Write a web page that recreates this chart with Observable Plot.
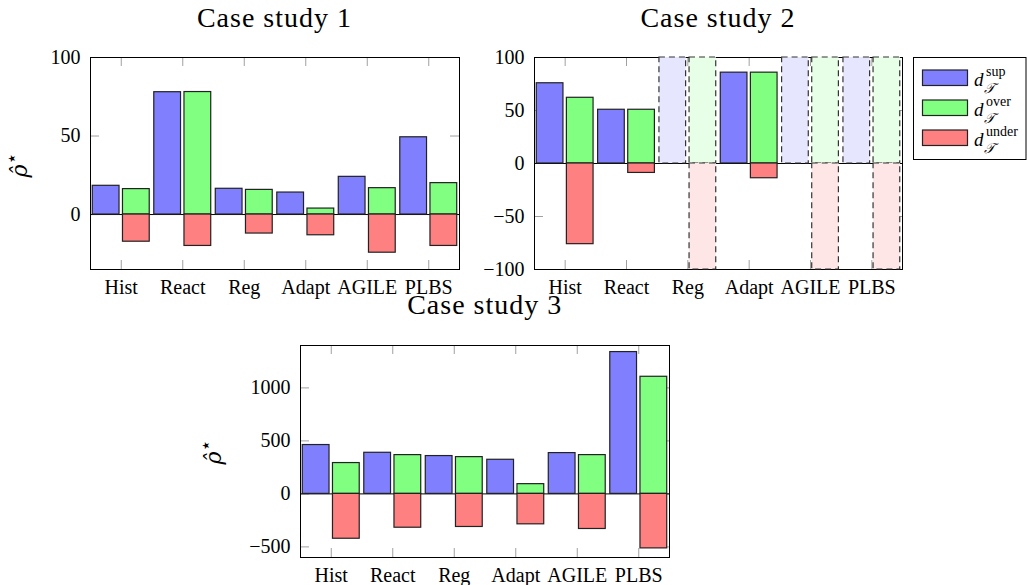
<!DOCTYPE html>
<html><head><meta charset="utf-8">
<script src="https://cdn.jsdelivr.net/npm/d3@7"></script>
<script src="https://cdn.jsdelivr.net/npm/@observablehq/plot@0.6"></script>
<style>
body{margin:0;background:#fff;}
#root{position:relative;width:1027px;height:585px;overflow:hidden;font-family:"Liberation Serif",serif;}
#root svg{position:absolute;overflow:visible;}
</style></head><body><div id="root"></div>
<script>
// ---- data ----
const categories = ["Hist", "React", "Reg", "Adapt", "AGILE", "PLBS"];
const series = ["sup", "over", "under"];
const seriesColors = ["#8080ff", "#80ff80", "#ff8080"];
const shadeColors = ["#e6e6ff", "#e6ffe6", "#ffe6e6"];
const titles = ["Case study 1", "Case study 2", "Case study 3"];

const case1Sup   = [18.3, 77.9, 16.4, 14.0, 24.0, 49.2];
const case1Over  = [16.2, 78.0, 15.7, 3.8, 16.8, 20.0];
const case1Under = [-17.3, -20.0, -12.1, -13.2, -24.3, -20.0];

const case2Sup   = [75.7, 50.7, null, 85.7, null, null];
const case2Over  = [62.0, 50.7, null, 85.7, null, null];
const case2Under = [-76.1, -8.9, null, -13.9, null, null];

const case3Sup   = [461, 388, 357, 322, 385, 1338];
const case3Over  = [291, 366, 347, 92, 366, 1105];
const case3Under = [-423, -319, -312, -287, -331, -514];

const yTicks1 = [0, 50, 100];
const yTicks2 = [-100, -50, 0, 50, 100];
const yTicks3 = [-500, 0, 500, 1000];

// ---- build ----
const root = document.getElementById("root");
const slot = {sup: [-0.463, -0.028], over: [0.028, 0.463], under: [0.028, 0.463]};
const colorOf = Object.fromEntries(series.map((s, i) => [s, seriesColors[i]]));
const shadeOf = Object.fromEntries(series.map((s, i) => [s, shadeColors[i]]));
const xTicks = categories.map((c, i) => i + 1);

function rowsFor(sup, over, under) {
  return categories.flatMap((c, i) => [
    {cat: c, idx: i + 1, s: "sup", v: sup[i]},
    {cat: c, idx: i + 1, s: "over", v: over[i]},
    {cat: c, idx: i + 1, s: "under", v: under[i]}
  ]);
}

function panel({rows, yDomain, yTicks, left, top, width, height, margins}) {
  const [mt, mr, mb, ml] = margins;
  const plotW = width - ml - mr, plotH = height - mt - mb;
  const tk = 9;
  const present = rows.filter(r => r.v != null);
  const missing = rows.filter(r => r.v == null);
  const marks = [
    Plot.ruleX(xTicks, {x: d => d, stroke: "#a0a0a0", insetTop: plotH - tk}),
    Plot.ruleX(xTicks, {x: d => d, stroke: "#a0a0a0", insetBottom: plotH - tk}),
    Plot.ruleY(yTicks, {y: d => d, stroke: "#a0a0a0", insetRight: plotW - tk}),
    Plot.ruleY(yTicks, {y: d => d, stroke: "#a0a0a0", insetLeft: plotW - tk}),
    Plot.frame({stroke: "black", strokeWidth: 1}),
    Plot.ruleY([0], {stroke: "black", strokeWidth: 1}),
    ...series.map(s => Plot.rectY(missing.filter(r => r.s === s), {
      x1: d => d.idx + slot[d.s][0], x2: d => d.idx + slot[d.s][1],
      y1: 0, y2: d => d.s === "under" ? yDomain[0] : yDomain[1],
      fill: shadeOf[s], stroke: "#333", strokeWidth: 1.2, strokeDasharray: "6,4"
    })),
    ...series.map(s => Plot.rectY(present.filter(r => r.s === s), {
      x1: d => d.idx + slot[d.s][0], x2: d => d.idx + slot[d.s][1],
      y1: 0, y2: "v",
      fill: colorOf[s], stroke: "#222", strokeWidth: 1.2
    })),
    Plot.axisX({ticks: xTicks, tickFormat: i => categories[i - 1], tickSize: 0, tickPadding: 10, fontSize: 20, label: null}),
    Plot.axisY({ticks: yTicks, tickFormat: d3.format("d"), tickSize: 0, tickPadding: 10, fontSize: 20, label: null})
  ];
  const svg = Plot.plot({
    width, height,
    marginTop: mt, marginRight: mr, marginBottom: mb, marginLeft: ml,
    x: {type: "linear", domain: [0.5, 6.5]},
    y: {domain: yDomain},
    style: {fontFamily: "Liberation Serif", fontSize: "20px", color: "black", background: "transparent", overflow: "visible"},
    marks
  });
  svg.style.left = left + "px";
  svg.style.top = top + "px";
  root.appendChild(svg);
}

panel({rows: rowsFor(case1Sup, case1Over, case1Under), yDomain: [-35, 100], yTicks: yTicks1,
  left: 0, top: 0, width: 470, height: 300, margins: [57, 11, 31, 90]});
panel({rows: rowsFor(case2Sup, case2Over, case2Under), yDomain: [-100, 100], yTicks: yTicks2,
  left: 470, top: 0, width: 440, height: 300, margins: [57, 8, 31, 64]});
panel({rows: rowsFor(case3Sup, case3Over, case3Under), yDomain: [-600, 1400], yTicks: yTicks3,
  left: 190, top: 290, width: 490, height: 295, margins: [55, 11, 28, 110]});

// ---- overlay: titles, y labels, legend ----
const ov = d3.select(root).append("svg").attr("width", 1027).attr("height", 585)
  .style("left", "0px").style("top", "0px").style("pointer-events", "none")
  .attr("font-family", "Liberation Serif");
const titlePos = [[274.5, 27], [718, 27], [484.7, 314]];
titles.forEach((t, i) => ov.append("text").attr("x", titlePos[i][0]).attr("y", titlePos[i][1])
  .attr("text-anchor", "middle").attr("font-size", 28).attr("letter-spacing", "1px").text(t));

[[27, 165], [221, 452]].forEach(([x, y]) => {
  const t = ov.append("text").attr("transform", `translate(${x},${y}) rotate(-90)`)
    .attr("text-anchor", "middle").attr("font-size", 22);
  t.append("tspan").attr("font-style", "italic").attr("font-family", "DejaVu Serif").text("ρ\u0302");
  t.append("tspan").attr("font-size", 19).attr("dy", -9).attr("font-family", "DejaVu Sans").text("⋆");
});

const lg = ov.append("g");
lg.append("rect").attr("x", 913.5).attr("y", 57.5).attr("width", 112.5).attr("height", 102)
  .attr("fill", "white").attr("stroke", "black");
series.forEach((s, i) => {
  const y0 = 70 + i * 30;
  lg.append("rect").attr("x", 922.5).attr("y", y0).attr("width", 45).attr("height", 15.5)
    .attr("fill", seriesColors[i]).attr("stroke", "#222").attr("stroke-width", 1.2);
  lg.append("text").attr("x", 974).attr("y", y0 + 16).attr("font-size", 19).attr("font-style", "italic").text("d");
  lg.append("text").attr("x", 986).attr("y", y0 + 6).attr("font-size", 14).text(s);
  lg.append("text").attr("x", 984).attr("y", y0 + 23).attr("font-size", 14).attr("font-style", "italic")
    .attr("font-family", "DejaVu Serif, Liberation Serif").text("𝒯");
});
</script></body></html>
